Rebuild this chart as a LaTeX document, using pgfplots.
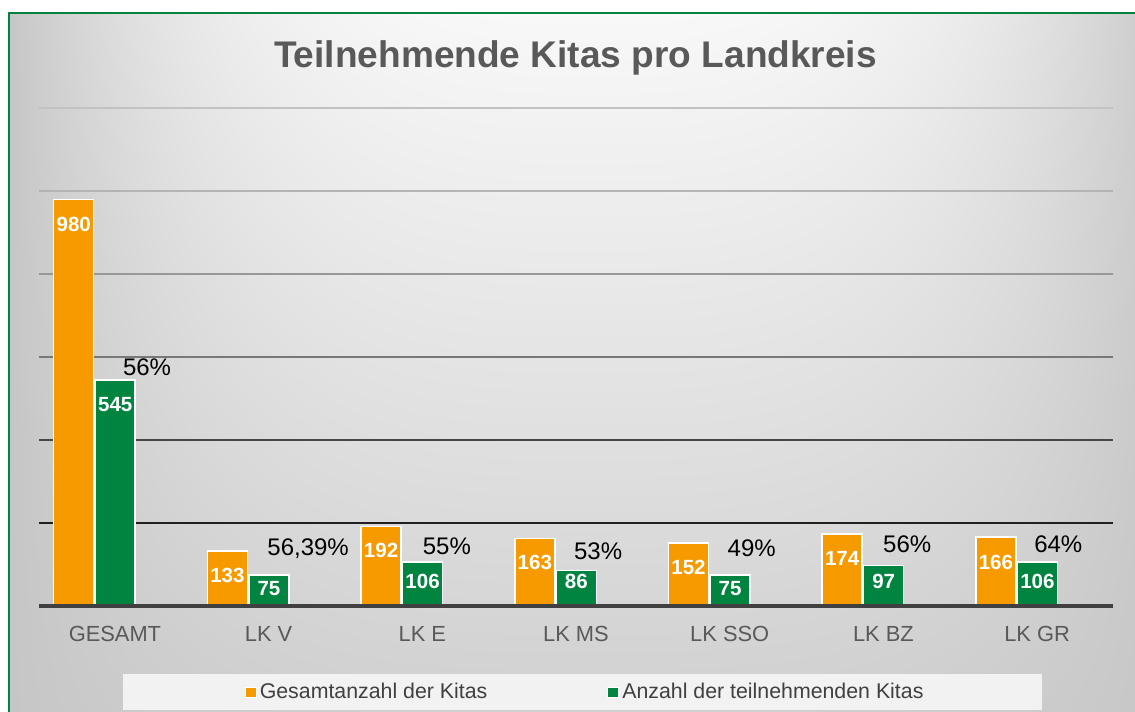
\documentclass[border=0pt]{standalone}
\usepackage{pgfplots}
\pgfplotsset{compat=1.18}
\usepackage{pgfplotstable}
\usepackage{fontspec}
\setmainfont{Liberation Sans}
\definecolor{orC}{HTML}{F79A00}
\definecolor{grC}{HTML}{00843F}
\definecolor{titleC}{HTML}{595959}
\definecolor{catC}{HTML}{595959}
\definecolor{legC}{HTML}{404040}
\definecolor{legBg}{HTML}{F2F2F2}
\definecolor{baseC}{HTML}{404040}
\definecolor{gA}{HTML}{C2C2C2}
\definecolor{gB}{HTML}{B4B4B4}
\definecolor{gC}{HTML}{989898}
\definecolor{gD}{HTML}{787878}
\definecolor{gE}{HTML}{464646}
\definecolor{gF}{HTML}{202020}
\definecolor{bgE}{HTML}{C6C6C6}
\pgfdeclarefunctionalshading{bgfun}{\pgfpoint{0bp}{0bp}}{\pgfpoint{100bp}{100bp}}{}{
 25 sub 50 div 0.157 mul 0.816 add
 exch 25 sub 50 div 0.516 sub abs 0.516 div dup dup mul mul
 dup 1 gt {pop 1} if
 1 exch sub
 exch 0.776 sub mul 0.776 add
 dup dup
}

\pgfplotstableread{
x y off
0 980 25
1 133 25
2 192 24.5
3 163 24.5
4 152 25
5 174 25
6 166 25
}\orangeT
\pgfplotstableread{
x y off
0 545 25
1 75 13.5
2 106 19
3 86 11.5
4 75 13.5
5 97 16
6 106 19
}\greenT

\begin{document}
\begin{tikzpicture}
\useasboundingbox (0,0) rectangle (851.25pt,-534pt);
\begin{scope}[x=0.75pt,y=-0.75pt]
\fill[white] (0,0) rectangle (1135,712);
\fill[bgE] (9,13) rectangle (1135,712);
\shade[shading=bgfun] (9,13) rectangle (1135,712);
\draw[grC, line width=1.5pt] (9,712) -- (9,13) -- (1135,13);
\node[anchor=base, inner sep=0pt, text=titleC, font=\bfseries\fontsize{27.8}{30}\selectfont] at (575.5,67.3) {Teilnehmende Kitas pro Landkreis};
\draw[line width=1.2pt, gA] (39,108) -- (1113,108);
\draw[line width=1.2pt, gB] (39,191) -- (1113,191);
\draw[line width=1.2pt, gC] (39,274) -- (1113,274);
\draw[line width=1.2pt, gD] (39,357) -- (1113,357);
\draw[line width=1.2pt, gE] (39,440) -- (1113,440);
\draw[line width=1.2pt, gF] (39,523) -- (1113,523);
\end{scope}

\begin{axis}[at={(29.25pt,-454.5pt)}, anchor=south west, scale only axis,
  width=805.5pt, height=373.5pt,
  xmin=-0.361, xmax=6.627, ymin=0, ymax=1200,
  axis line style={draw=none}, tick style={draw=none}, major tick length=0pt,
  ytick=\empty, xtick={0.133,1.133,2.133,3.133,4.133,5.133,6.133},
  xticklabels={GESAMT, LK V, LK E, LK MS, LK SSO, LK BZ, LK GR},
  xticklabel style={anchor=base, yshift=-26.25pt, text=catC, font=\fontsize{16.4}{18}\selectfont},
  clip=false]
\addplot[ybar, bar width=30pt, bar shift=-15.56pt, fill=orC, draw=white, line width=1.125pt,
  point meta=explicit symbolic, nodes near coords,
  visualization depends on={\thisrow{off}\as\off},
  every node near coord/.append style={anchor=center, xshift=-15.56pt, yshift=-0.75*\off*1pt, text=white, font=\bfseries\fontsize{15.4}{17}\selectfont}]
  table[x=x,y=y,meta=y]{\orangeT};
\addplot[ybar, bar width=30pt, bar shift=15.56pt, fill=grC, draw=white, line width=1.125pt,
  point meta=explicit symbolic, nodes near coords,
  visualization depends on={\thisrow{off}\as\off},
  every node near coord/.append style={anchor=center, xshift=15.56pt, yshift=-0.75*\off*1pt, text=white, font=\bfseries\fontsize{15.4}{17}\selectfont}]
  table[x=x,y=y,meta=y]{\greenT};
\begin{scope}[font=\fontsize{18}{20}\selectfont]
\node[anchor=center] at (axis cs:0.342,576) {56\%};
\node[anchor=center] at (axis cs:1.390,138) {56,39\%};
\node[anchor=center] at (axis cs:2.293,145) {55\%};
\node[anchor=center] at (axis cs:3.277,133) {53\%};
\node[anchor=center] at (axis cs:4.276,139) {49\%};
\node[anchor=center] at (axis cs:5.288,149) {56\%};
\node[anchor=center] at (axis cs:6.271,149) {64\%};
\end{scope}
\end{axis}

\begin{scope}[x=0.75pt,y=-0.75pt]
\draw[line width=2.4pt, baseC] (39,606) -- (1113,606);
\fill[legBg] (123,674) rectangle (1042,710);
\draw[white, line width=0.75pt, fill=orC] (245,687) rectangle (256,697);
\node[anchor=base west, inner sep=0pt, text=legC, font=\fontsize{16}{18}\selectfont] at (259.5,698.3) {Gesamtanzahl der Kitas};
\draw[white, line width=0.75pt, fill=grC] (607,687) rectangle (618,697);
\node[anchor=base west, inner sep=0pt, text=legC, font=\fontsize{16}{18}\selectfont] at (622,698.3) {Anzahl der teilnehmenden Kitas};
\end{scope}
\end{tikzpicture}
\end{document}
